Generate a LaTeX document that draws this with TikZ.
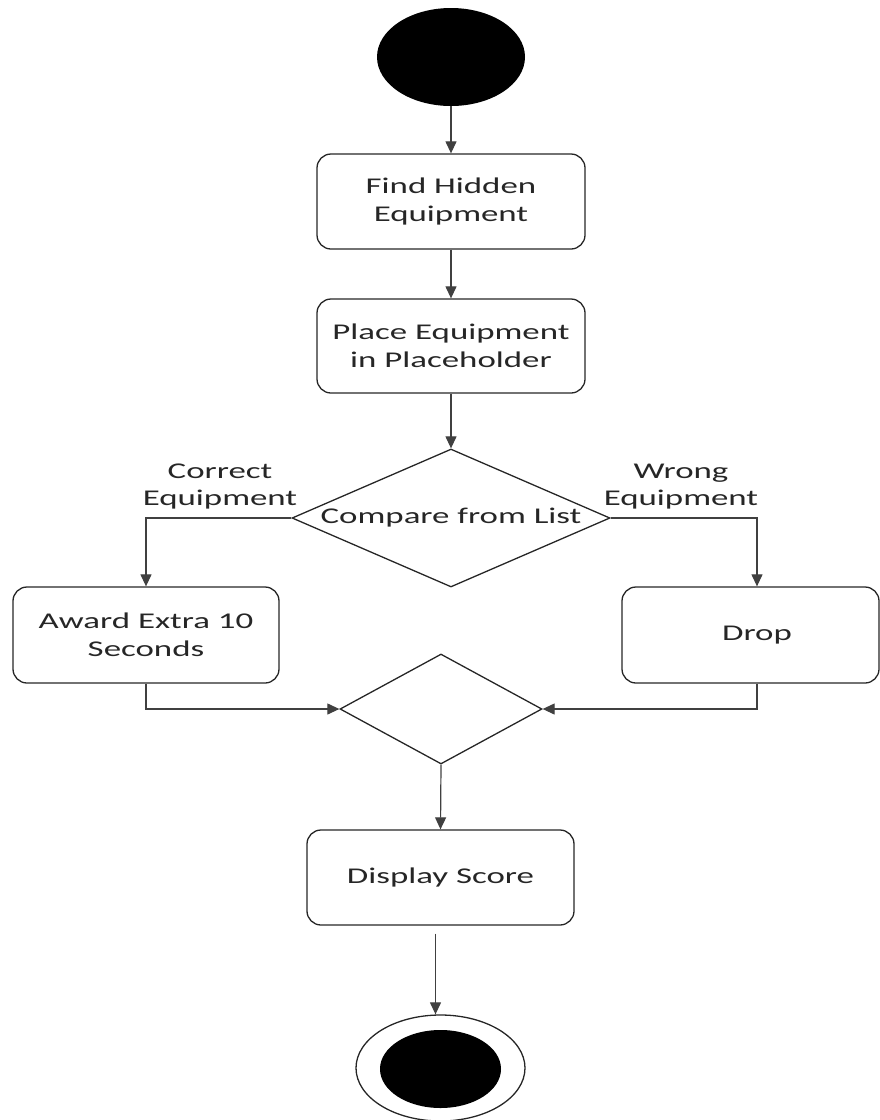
\documentclass[tikz,border=0pt]{standalone}
\usepackage{fontspec}
\setmainfont[FakeStretch=1.55]{Carlito}
\usetikzlibrary{shapes.geometric,arrows.meta}
\begin{document}
\begin{tikzpicture}[x=1pt,y=-1pt,
  every node/.style={font=\fontsize{22.5}{27.5}\selectfont, text=black!85},
  actbox/.style={draw=black!85, line width=1.3pt, rounded corners=14pt, inner sep=0pt,
    minimum height=95pt, align=center},
  decis/.style={draw=black!85, line width=1.3pt, diamond, inner sep=0pt},
  lbl/.style={align=center, inner sep=0pt},
  conn/.style={draw=black!75, line width=1.2pt, -{Triangle[width=11pt,length=12pt]}},
  plain/.style={draw=black!75, line width=1.2pt}]
\useasboundingbox (0,0) rectangle (880,1120);

\node[ellipse, fill=black, minimum width=148pt, minimum height=98pt, inner sep=0pt] (start) at (451,57) {};
\node[actbox, minimum width=268pt] (find) at (451,201.5) {Find Hidden\\Equipment};
\node[actbox, minimum width=268pt, minimum height=94pt] (place) at (451,346) {Place Equipment\\in Placeholder};
\node[decis, minimum width=318pt, minimum height=138pt] (cmp) at (451,518) {};
\node[lbl] (cmptxt) at (451,518) {Compare from List};
\node[lbl] (lblc) at (220,486.5) {Correct\\Equipment};
\node[lbl] (lblw) at (681,486.5) {Wrong\\Equipment};
\node[actbox, minimum width=266pt, minimum height=96pt] (award) at (146,635) {Award Extra 10\\Seconds};
\node[actbox, minimum width=257pt, minimum height=96pt] (drop) at (750.5,635) {\hspace*{13pt}Drop};
\node[decis, minimum width=202pt, minimum height=110pt] (merge) at (441,709) {};
\node[actbox, minimum width=267pt] (disp) at (440.5,877.5) {Display Score};
\node[ellipse, draw=black!85, line width=1.3pt, minimum width=169pt, minimum height=106pt, inner sep=0pt] (endo) at (440.5,1068) {};
\node[ellipse, fill=black, minimum width=121pt, minimum height=78pt, inner sep=0pt] (endi) at (440.5,1069) {};

\draw[conn] (start.south) -- (find.north);
\draw[conn] (find.south) -- (place.north);
\draw[conn] (place.south) -- (cmp.north);
\draw[conn] (cmp.west) -| (award.north);
\draw[conn] (cmp.east) -| ([xshift=6.5pt]drop.north);
\draw[conn] (award.south) |- (merge.west);
\draw[conn] ([xshift=6.5pt]drop.south) |- (merge.east);
\draw[conn] (merge.south) -- (disp.north);
\draw[conn] ([xshift=-5pt,yshift=-8pt]disp.south) -- ([xshift=-5pt]endo.north);
\end{tikzpicture}
\end{document}
